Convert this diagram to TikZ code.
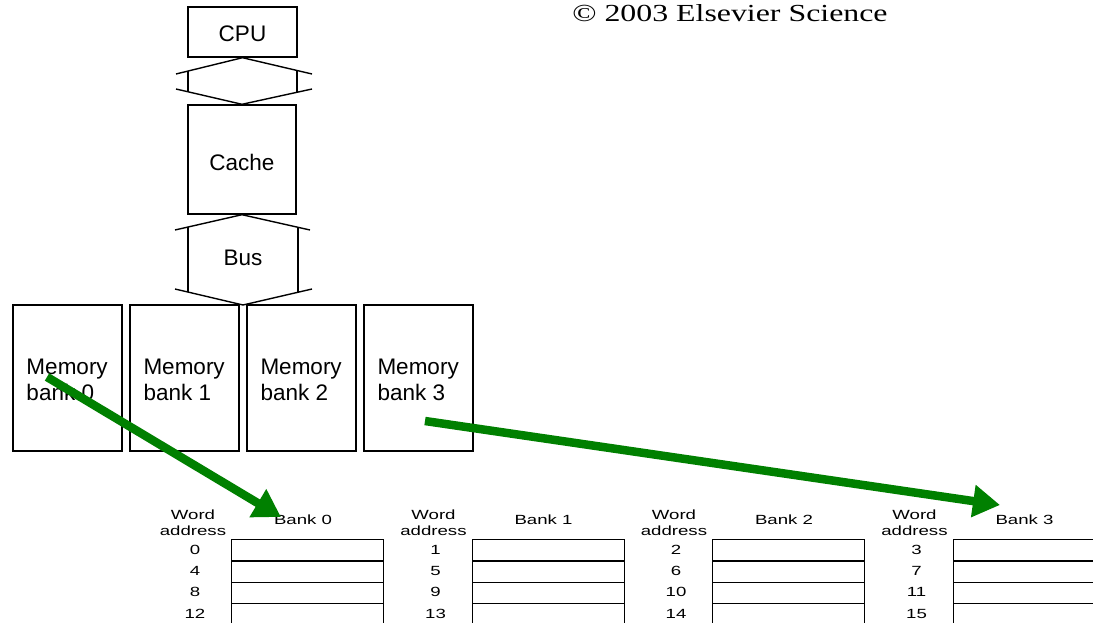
\documentclass[tikz,border=0pt]{standalone}
\usepackage{fontspec}
\setmainfont{Liberation Sans}
\newfontfamily\tabfont[FakeStretch=1.4]{Liberation Sans}
\newfontfamily\copyfont[FakeStretch=1.3]{Liberation Serif}
\usetikzlibrary{arrows.meta,calc}
\definecolor{arrowgreen}{RGB}{0,128,0}
\begin{document}
\begin{tikzpicture}[x=1pt,y=-1pt,
  box/.style={draw, line width=1.4pt, inner sep=0pt, minimum width=109pt},
  bigtext/.style={font=\fontsize{22.5}{26}\selectfont, inner sep=0pt},
  memtext/.style={font=\fontsize{22.5}{26}\selectfont, inner sep=0pt, align=left, anchor=north west},
  tabtext/.style={font=\tabfont\fontsize{13.3}{16}\selectfont, inner sep=0pt, align=center},
  rowbox/.style={draw, line width=1.3pt, minimum width=152pt, minimum height=21.33pt, inner sep=0pt, anchor=north west},
  conn/.style={line width=1.4pt, line join=miter},
  greenarrow/.style={line width=8.5pt, draw=arrowgreen, -{Triangle[length=27pt,width=31pt]}}]
\useasboundingbox (0,0) rectangle (1093,623);
\clip (0,0) rectangle (1093,623);
\fill[white] (0,0) rectangle (1093,623);

% copyright
\node[font=\copyfont\fontsize{24.5}{28}\selectfont, inner sep=0pt] (copy) at (730,13) {© 2003 Elsevier Science};

% CPU and cache
\node[box, bigtext, minimum height=50pt, text height=20pt] (cpu) at (242.5,32) {CPU};
\node[box, bigtext, minimum width=108pt, minimum height=109pt, text height=23pt] (cache) at (242,159.5) {Cache};

% connector CPU-cache
\coordinate (uL1) at (176,74); \coordinate (uR1) at (312,74);
\coordinate (uL2) at (176,89); \coordinate (uR2) at (312,89);
\draw[conn] (uL1) -- (cpu.south) -- (uR1);
\draw[conn] (uL2) -- (cache.north) -- (uR2);
\draw[conn] (188,70.9) -- (188,91.9);
\draw[conn] (297,70.3) -- (297,92.4);

% bus
\coordinate (bL1) at (175,230); \coordinate (bR1) at (310,230);
\coordinate (bL2) at (175,289); \coordinate (bR2) at (312,289);
\coordinate (bapex) at (243,305);
\draw[conn] (bL1) -- (cache.south) -- (bR1);
\draw[conn] (bL2) -- (bapex) -- (bR2);
\draw[conn] (188,226.9) -- (188,292);
\draw[conn] (298,227.2) -- (298,292.2);
\node[bigtext] (bus) at (243,258) {Bus};

% memory banks
\foreach \i/\x in {0/67.5,1/184.5,2/301.5,3/418.5} {
  \node[box, minimum height=146pt] (m\i) at (\x,378) {};
  \node[memtext] (m\i t) at ($(m\i.north west)+(14,55)$) {Memory\\bank \i};
}

% tables
\foreach \i/\L in {0/231,1/471.5,2/712,3/952.5} {
  \node[tabtext] (wa\i) at (\L-38,523) {Word\\address};
  \node[tabtext] (bk\i) at (\L+72,520) {Bank \i};
  \foreach \r in {0,1,2,3} {
    \pgfmathtruncatemacro\addr{4*\r+\i}
    \node[rowbox] (t\i-\r) at (\L,539+21.33*\r) {};
    \node[tabtext] (n\i-\r) at (\L-36,549.7+21.33*\r) {\addr};
  }
}

% green arrows
\coordinate (a1s) at (47,377); \coordinate (a1e) at (281,517);
\coordinate (a2s) at (425,421); \coordinate (a2e) at (1000,505);
\draw[greenarrow] (a1s) -- (a1e);
\draw[greenarrow] (a2s) -- (a2e);
\end{tikzpicture}
\end{document}
